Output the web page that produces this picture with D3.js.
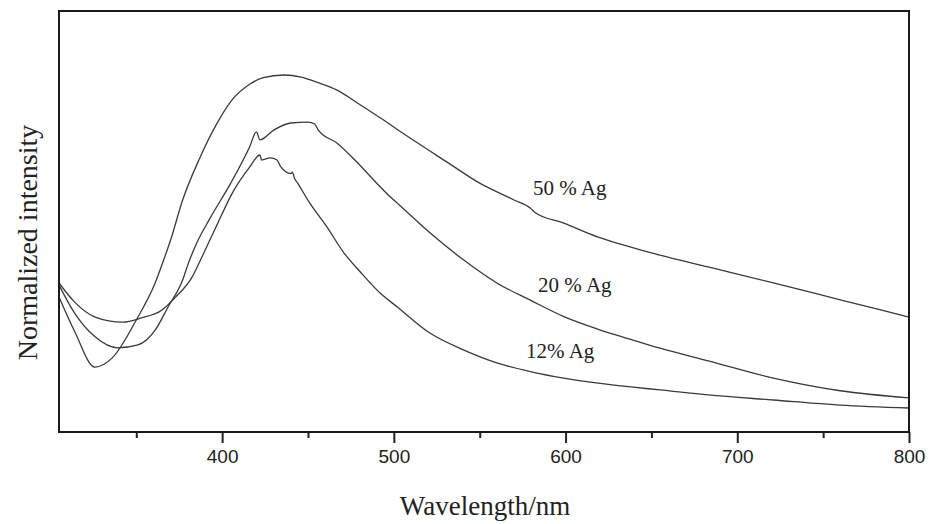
<!DOCTYPE html>
<html>
<head>
<meta charset="utf-8">
<script src="https://cdn.jsdelivr.net/npm/d3@7/dist/d3.min.js"></script>
<style>
  html, body { margin: 0; padding: 0; background: #fff; }
  svg { display: block; }
</style>
</head>
<body>
<svg id="chart" width="931" height="524"></svg>
<script>
// ---- data ----
const wl50 = [305, 314, 326, 336, 350, 361, 366, 370, 377, 387, 397, 406, 416, 424, 436, 446, 455, 467, 479, 494, 504, 511, 531, 550, 570, 580, 582, 599, 619, 638, 655, 683, 721, 760, 800];
const val50 = [0.321, 0.240, 0.154, 0.176, 0.266, 0.354, 0.409, 0.456, 0.551, 0.651, 0.733, 0.790, 0.826, 0.842, 0.848, 0.843, 0.831, 0.812, 0.781, 0.741, 0.713, 0.694, 0.641, 0.591, 0.551, 0.530, 0.522, 0.496, 0.463, 0.439, 0.420, 0.392, 0.354, 0.314, 0.273];

const wl20 = [305, 314, 326, 339, 351, 361, 368.5, 377, 380, 385, 393, 405, 416, 420, 422, 430, 440, 450, 454, 456, 467, 479, 490, 498, 503, 521, 540.5, 560, 580, 599, 619, 638, 655, 683, 721, 760, 800];
const val20 = [0.349, 0.283, 0.226, 0.200, 0.207, 0.242, 0.297, 0.361, 0.397, 0.447, 0.508, 0.591, 0.677, 0.713, 0.694, 0.717, 0.734, 0.736, 0.731, 0.717, 0.686, 0.639, 0.591, 0.558, 0.540, 0.473, 0.409, 0.354, 0.312, 0.274, 0.244, 0.220, 0.199, 0.169, 0.128, 0.098, 0.081];

const wl12 = [305, 314, 326, 342, 353, 365, 373, 382.5, 387, 394, 397, 406, 416, 422, 423, 428, 432, 434, 440, 441, 442, 444, 451, 461, 471, 480.5, 492, 502, 521, 540.5, 560, 580, 599, 619, 638, 655, 683, 721, 760, 800];
const val12 = [0.354, 0.309, 0.273, 0.261, 0.271, 0.290, 0.321, 0.368, 0.405, 0.466, 0.492, 0.568, 0.629, 0.658, 0.646, 0.651, 0.646, 0.631, 0.614, 0.617, 0.604, 0.591, 0.544, 0.487, 0.425, 0.380, 0.330, 0.297, 0.235, 0.195, 0.164, 0.143, 0.128, 0.116, 0.107, 0.100, 0.088, 0.076, 0.064, 0.057];

const seriesNames = ["50 % Ag", "20 % Ag", "12% Ag"];
const labelWl = [581, 584, 577];
const labelVal = [0.563, 0.333, 0.176];

const majorTicks = [400, 500, 600, 700, 800];
const minorTicks = [350, 450, 550, 650, 750];
const xDomain = [305, 800];
const yDomain = [0, 1];

const xTitle = "Wavelength/nm";
const yTitle = "Normalized intensity";

// ---- layout ----
const plotL = 59, plotR = 909, plotT = 11, plotB = 432;
const svg = d3.select("#chart");

const x = d3.scaleLinear().domain(xDomain).range([plotL, plotR]);
const y = d3.scaleLinear().domain(yDomain).range([plotB, plotT]);

const series = [
  { name: seriesNames[0], wl: wl50, val: val50 },
  { name: seriesNames[1], wl: wl20, val: val20 },
  { name: seriesNames[2], wl: wl12, val: val12 }
];

const line = d3.line()
  .x(d => x(d[0]))
  .y(d => y(d[1]))
  .curve(d3.curveMonotoneX);

svg.append("g").selectAll("path")
  .data(series)
  .join("path")
  .attr("d", s => line(s.wl.map((w, i) => [w, s.val[i]])))
  .attr("fill", "none")
  .attr("stroke", "#3a3a3a")
  .attr("stroke-width", 1.3)
  .attr("stroke-linejoin", "round");

// series labels
svg.append("g").selectAll("text")
  .data(series)
  .join("text")
  .attr("x", (s, i) => x(labelWl[i]))
  .attr("y", (s, i) => y(labelVal[i]))
  .attr("font-family", "'Liberation Serif', 'Times New Roman', serif")
  .attr("font-size", 21)
  .attr("fill", "#222")
  .text(s => s.name);

// x axis: major ticks with labels
const xAxis = d3.axisBottom(x).tickValues(majorTicks).tickSize(11).tickPadding(7)
  .tickFormat(d3.format("d"));
const gx = svg.append("g").attr("transform", `translate(0,${plotB})`).call(xAxis);
gx.select(".domain").remove();
gx.selectAll(".tick line").attr("stroke", "#222").attr("stroke-width", 2);
gx.selectAll(".tick text")
  .attr("font-family", "'Liberation Sans', Arial, sans-serif")
  .attr("font-size", 19)
  .attr("fill", "#222");

// minor ticks
const xMinor = d3.axisBottom(x).tickValues(minorTicks).tickSize(6).tickFormat("");
const gm = svg.append("g").attr("transform", `translate(0,${plotB})`).call(xMinor);
gm.select(".domain").remove();
gm.selectAll(".tick line").attr("stroke", "#222").attr("stroke-width", 2);

// frame
svg.append("rect")
  .attr("x", plotL).attr("y", plotT)
  .attr("width", plotR - plotL).attr("height", plotB - plotT)
  .attr("fill", "none")
  .attr("stroke", "#1a1a1a")
  .attr("stroke-width", 2);

// axis titles
svg.append("text")
  .attr("x", (plotL + plotR) / 2 + 1)
  .attr("y", 515)
  .attr("text-anchor", "middle")
  .attr("font-family", "'Liberation Serif', 'Times New Roman', serif")
  .attr("font-size", 27)
  .attr("fill", "#222")
  .text(xTitle);

svg.append("text")
  .attr("transform", `translate(37,${(120 + 365) / 2}) rotate(-90)`)
  .attr("text-anchor", "middle")
  .attr("font-family", "'Liberation Serif', 'Times New Roman', serif")
  .attr("font-size", 28)
  .attr("fill", "#222")
  .text(yTitle);
</script>
</body>
</html>
